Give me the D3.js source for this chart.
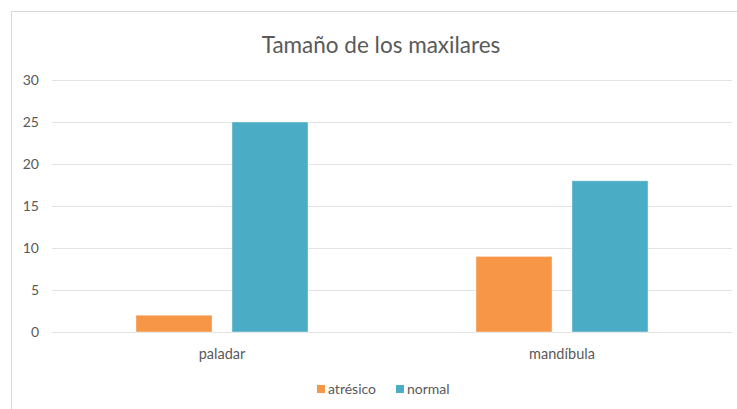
<!DOCTYPE html>
<html>
<head>
<meta charset="utf-8">
<script src="https://cdn.jsdelivr.net/npm/d3@7"></script>
<style>
  body { margin: 0; background: #fff; }
  text { font-family: Lato, "Open Sans", sans-serif; fill: #595959; }
</style>
</head>
<body>
<div id="chart"></div>
<script>
// Data
var categories = ["paladar", "mandíbula"];
var seriesNames = ["atrésico", "normal"];
var atresico = [2, 9];
var normal = [25, 18];
var yTicks = [0, 5, 10, 15, 20, 25, 30];
var colors = ["#F79646", "#4BACC6"];

var width = 737;
var height = 409;

var svg = d3.select("#chart").append("svg")
    .attr("width", width)
    .attr("height", height);

// chart frame
svg.append("rect")
    .attr("x", 11.5)
    .attr("y", 11.5)
    .attr("width", 740)
    .attr("height", 420)
    .style("fill", "#fff")
    .style("stroke", "#d9d9d9");

var x = d3.scaleBand()
    .domain(categories)
    .range([52, 732]);

var xs = d3.scaleBand()
    .domain(seriesNames)
    .range([0, x.bandwidth()])
    .paddingInner(0.208)
    .paddingOuter(0.875);

var y = d3.scaleLinear()
    .domain([0, 30])
    .range([332, 80]);

// gridlines
svg.append("g").selectAll("line")
    .data(yTicks)
  .enter().append("line")
    .attr("x1", 52)
    .attr("x2", 732)
    .attr("y1", function(d) { return Math.round(y(d)) + 0.5; })
    .attr("y2", function(d) { return Math.round(y(d)) + 0.5; })
    .style("stroke", "#e3e3e3")
    .style("stroke-width", 1.2);

// y labels
svg.append("g").selectAll("text")
    .data(yTicks)
  .enter().append("text")
    .attr("x", 39)
    .attr("y", function(d) { return y(d); })
    .attr("dy", "0.35em")
    .attr("text-anchor", "end")
    .style("font-size", "14px")
    .text(function(d) { return d; });

// bars
var rows = categories.map(function(c, i) {
  return { cat: c, values: [atresico[i], normal[i]] };
});

var groups = svg.append("g").selectAll("g")
    .data(rows)
  .enter().append("g")
    .attr("transform", function(d) { return "translate(" + x(d.cat) + ",0)"; });

groups.selectAll("rect")
    .data(function(d) {
      return d.values.map(function(v, j) { return { name: seriesNames[j], value: v, j: j }; });
    })
  .enter().append("rect")
    .attr("x", function(d) { return xs(d.name); })
    .attr("y", function(d) { return y(d.value); })
    .attr("width", xs.bandwidth())
    .attr("height", function(d) { return y(0) - y(d.value); })
    .style("fill", function(d) { return colors[d.j]; })
    .style("stroke", "#fff")
    .style("stroke-opacity", 0.5)
    .style("stroke-width", 0.8);

// category labels
svg.append("g").selectAll("text")
    .data(categories)
  .enter().append("text")
    .attr("x", function(d) { return x(d) + x.bandwidth() / 2; })
    .attr("y", 359)
    .attr("text-anchor", "middle")
    .style("font-size", "14.5px")
    .text(function(d) { return d; });

// title
svg.append("text")
    .attr("x", 381)
    .attr("y", 53)
    .attr("text-anchor", "middle")
    .style("font-size", "22.5px")
    .text("Tamaño de los maxilares");

// legend
var legendX = [317, 396];
var legend = svg.append("g").selectAll("g")
    .data(seriesNames)
  .enter().append("g")
    .attr("transform", function(d, i) { return "translate(" + legendX[i] + ",385)"; });

legend.append("rect")
    .attr("width", 8)
    .attr("height", 8)
    .style("fill", function(d, i) { return colors[i]; });

legend.append("text")
    .attr("x", 11)
    .attr("y", 4)
    .attr("dy", "0.35em")
    .style("font-size", "14px")
    .text(function(d) { return d; });
</script>
</body>
</html>
